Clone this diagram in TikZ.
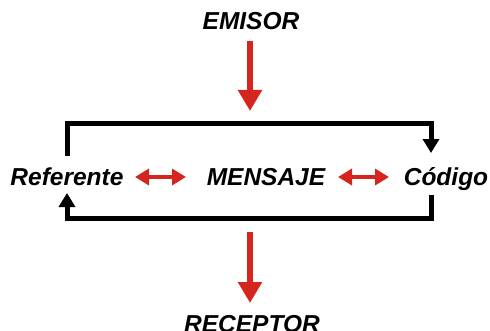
\documentclass[tikz,border=0pt]{standalone}
\usepackage{fontspec}
\setmainfont{Liberation Sans}
\usetikzlibrary{arrows.meta}
\definecolor{arrred}{RGB}{212,38,30}
\tikzset{
  lbl/.style={font=\fontsize{24.5}{28}\selectfont\bfseries\itshape, inner sep=0pt},
  bigred/.style={arrred, line width=5.5pt, -{Triangle[width=23pt,length=21pt]}},
  dblred/.style={arrred, line width=4pt, {Triangle[width=16pt,length=14pt]}-{Triangle[width=16pt,length=14pt]}},
  loopline/.style={black, line width=5pt, line join=miter, -{Triangle[width=16pt,length=14pt]}}
}
\begin{document}
\begin{tikzpicture}[x=1pt,y=1pt]
\useasboundingbox (0,0) rectangle (490,330);
\node[lbl, anchor=base] (emisor) at (251,300) {EMISOR};
\node[lbl, anchor=base] (ref) at (67,144.5) {Referente};
\node[lbl, anchor=base] (men) at (266,144.5) {MENSAJE};
\node[lbl, anchor=base] (cod) at (446,144.5) {Código};
\node[lbl, anchor=base] (rec) at (252,-2) {RECEPTOR};
% emisor/receptor arrows
\coordinate (e1) at (250,289);
\coordinate (e2) at (250,219);
\coordinate (r1) at (250,98);
\coordinate (r2) at (250,27);
\draw[bigred] (e1) -- (e2);
\draw[bigred] (r1) -- (r2);
% double arrows
\coordinate (d1a) at (135,153);
\coordinate (d1b) at (186,153);
\coordinate (d2a) at (338,153);
\coordinate (d2b) at (389,153);
\draw[dblred] (d1a) -- (d1b);
\draw[dblred] (d2a) -- (d2b);
% loops
\coordinate (t1) at (67,174);
\coordinate (tc1) at (67,207);
\coordinate (tc2) at (431,207);
\coordinate (t2) at (431,177);
\draw[loopline] (t1) -- (tc1) -- (tc2) -- (t2);
\coordinate (b1) at (431,135);
\coordinate (bc1) at (431,112);
\coordinate (bc2) at (67,112);
\coordinate (b2) at (67,137);
\draw[loopline] (b1) -- (bc1) -- (bc2) -- (b2);
\end{tikzpicture}
\end{document}
